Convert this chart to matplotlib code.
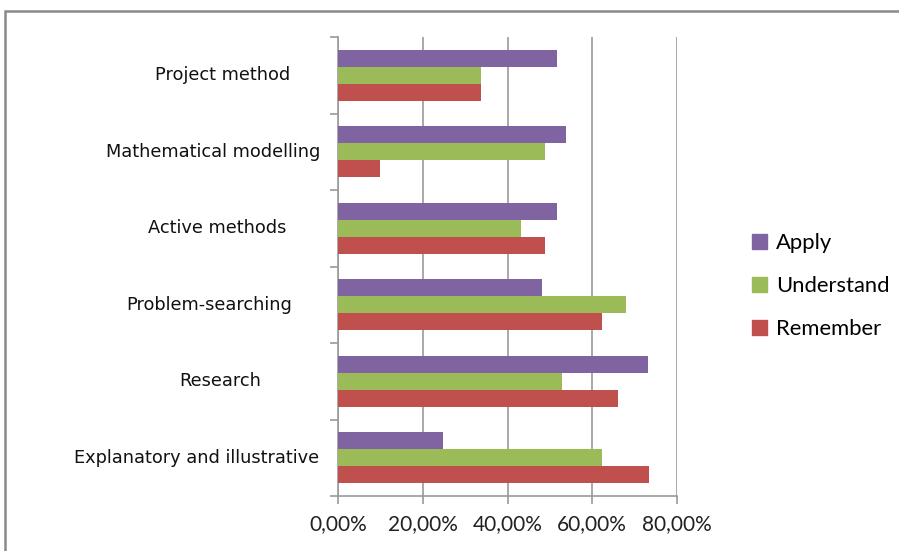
import numpy as np
import matplotlib.pyplot as plt
from matplotlib.patches import Rectangle, Patch

# categories from bottom to top (Excel order)
categories = ['Explanatory and illustrative', 'Research', 'Problem-searching',
              'Active methods', 'Mathematical modelling', 'Project method']
apply_vals = [24.8, 73.1, 48.2, 51.7, 53.7, 51.7]
understand_vals = [62.2, 52.8, 67.9, 43.2, 48.9, 33.8]
remember_vals = [73.4, 66.0, 62.2, 48.9, 9.9, 33.8]
xticks = [0, 20, 40, 60, 80]
xtick_labels = ['0,00%', '20,00%', '40,00%', '60,00%', '80,00%']

# label centre offsets (in x data units, left of the axis)
label_x = [-33.3, -27.9, -30.3, -28.6, -29.5, -27.2]

c_apply = '#8064A2'
c_understand = '#9BBB59'
c_remember = '#C0504D'

fig = plt.figure(figsize=(8.99, 5.51), dpi=100)
ax = fig.add_axes([338/899, 1-496/551, (677-338)/899, (496-37)/551])

y = np.arange(len(categories))
h = 0.222
ax.barh(y + h, apply_vals, height=h, color=c_apply, zorder=3)
ax.barh(y, understand_vals, height=h, color=c_understand, zorder=3)
ax.barh(y - h, remember_vals, height=h, color=c_remember, zorder=3)

ax.set_xlim(0, 80)
ax.set_ylim(-0.5, len(categories) - 0.5)

gray = '#9a9a9a'
ax.set_xticks(xticks)
ax.set_xticklabels(xtick_labels, family='Lato', fontsize=15, color='#222222')
ax.grid(axis='x', color=gray, linewidth=1.2, zorder=0)
ax.tick_params(axis='x', length=6, width=1.2, color=gray, pad=7)

# category labels drawn as text, ticks at category borders
ax.set_yticks(np.arange(-0.5, len(categories), 1))
ax.set_yticklabels([])
ax.tick_params(axis='y', length=6, width=1.2, color=gray)
for yi, name, lx in zip(y, categories, label_x):
    ax.text(lx, yi, name, ha='center', va='center', fontsize=12.8,
            family='DejaVu Sans', color='#111111')

for s in ['top', 'right']:
    ax.spines[s].set_visible(False)
for s in ['left', 'bottom']:
    ax.spines[s].set_color(gray)
    ax.spines[s].set_linewidth(1.2)

handles = [Patch(color=c_apply), Patch(color=c_understand), Patch(color=c_remember)]
fig.legend(handles, ['Apply', 'Understand', 'Remember'], loc='upper left',
           bbox_to_anchor=(741/899, 1-222/551), frameon=False, borderpad=0,
           handlelength=0.7, handleheight=0.7, handletextpad=0.4,
           labelspacing=1.05, prop={'family': 'Lato', 'size': 15.8})

# outer chart border
fig.patches.append(Rectangle((5/899, -0.1), 1.0, 1 - 11/551 + 0.1,
                             transform=fig.transFigure, fill=False,
                             edgecolor='#8a8a8a', linewidth=1.8))

fig.savefig('out.png', dpi=100)
